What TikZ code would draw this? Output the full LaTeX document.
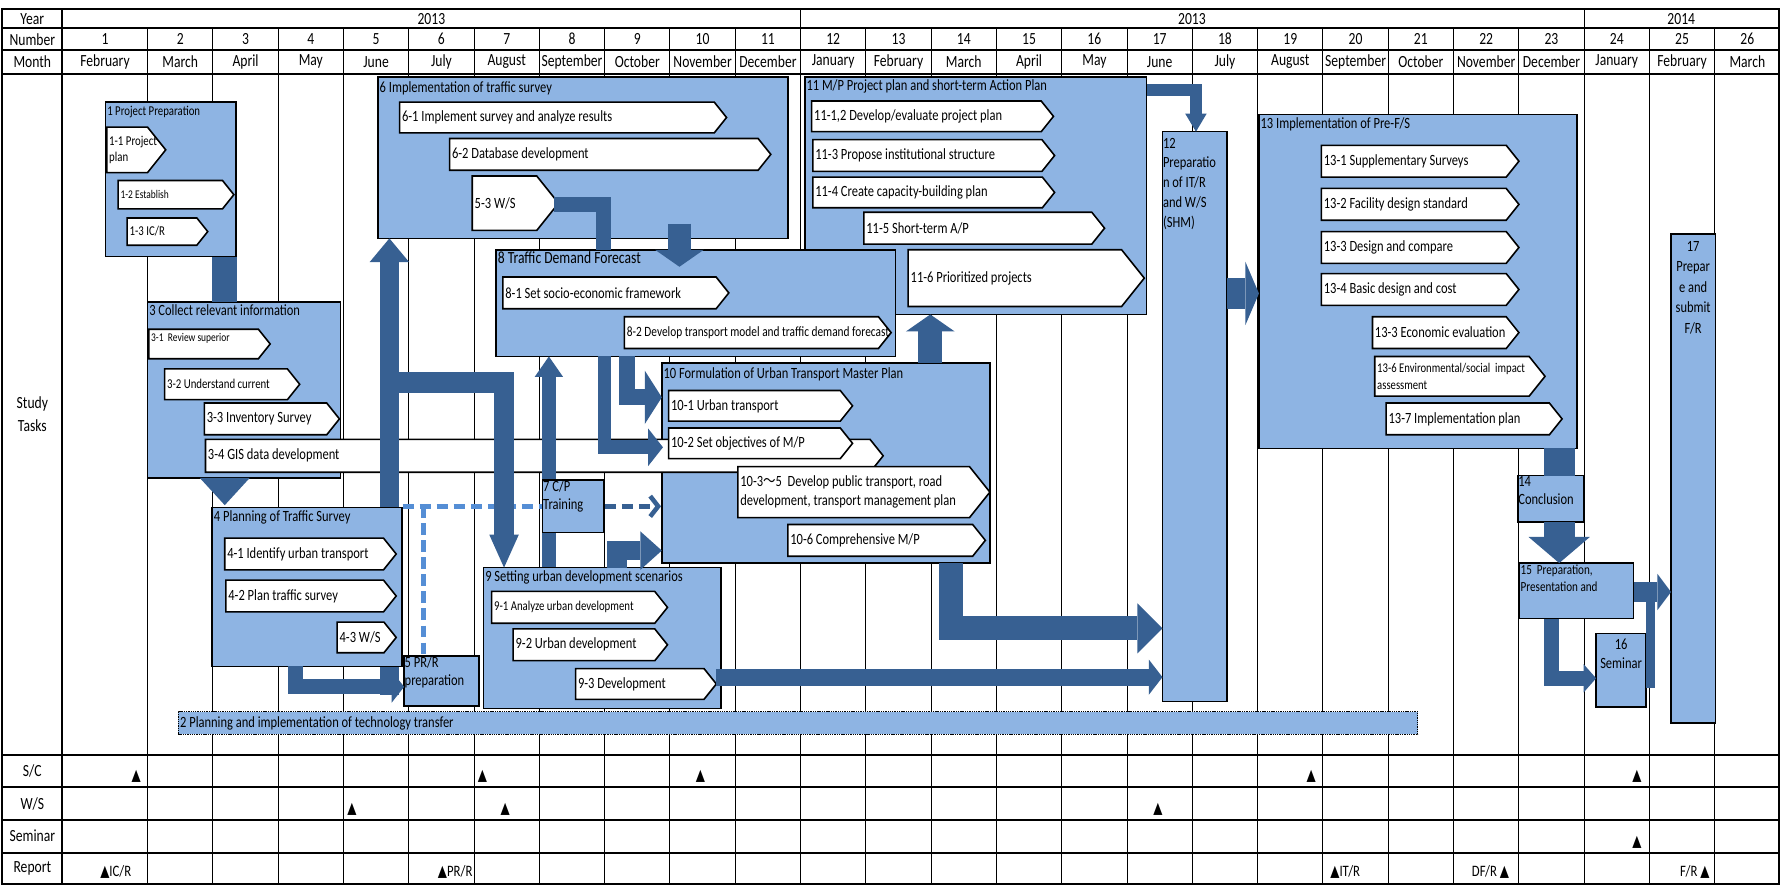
\documentclass[tikz,border=0pt]{standalone}
\usepackage{fontspec}
\setmainfont[FakeStretch=0.8]{Carlito}
\newfontfamily\symfont[FakeStretch=0.75]{DejaVu Sans}
\newfontfamily\cjkfont[FakeStretch=0.8]{Noto Sans CJK SC}
\usetikzlibrary{positioning}
\usetikzlibrary{arrows.meta}
\usetikzlibrary{fit}

\definecolor{boxblue}{HTML}{8EB4E3}
\definecolor{arrowblue}{HTML}{376092}
\definecolor{dashblue}{HTML}{558ED5}

\newcommand{\hdr}{\fontsize{15}{20}\selectfont}
\newcommand{\tsk}{\fontsize{13.75}{17}\selectfont}
\newcommand{\tsksmall}{\fontsize{11.9}{15}\selectfont}
\newcommand{\tsktiny}{\fontsize{10.4}{12.5}\selectfont}
\newcommand{\tri}{{\symfont\fontsize{14}{14}\selectfont ▲}}

% task box from corner to corner
\newcommand{\tbox}[5]{\node[taskbox, fit={(#2,#3) (#4,#5)}] (#1) {};}
% chevron: [text opts]{name}{x1}{y1}{x2}{y2}{text}
\newcommand{\chev}[7][]{%
  \draw[chevline] (#3,#4) -- ({#5-0.4*(#6-#4)},#4) -- (#5,{(#4+#6)/2})
    -- ({#5-0.4*(#6-#4)},#6) -- (#3,#6) -- cycle;
  \node[chevtext,#1] (#2) at (#3,{(#4+#6)/2}) {#7};}

\begin{document}
\begin{tikzpicture}[
    x=1pt, y=-1pt,
    gridline/.style={draw=black, line width=0.9pt},
    rowline/.style={draw=black, line width=1.8pt},
    headtext/.style={inner sep=1pt, font=\hdr},
    taskbox/.style={draw=black, line width=1.4pt, fill=boxblue, inner sep=0pt},
    boxtitle/.style={anchor=north west, inner sep=2pt, align=left, font=\tsk},
    chevline/.style={draw=black, line width=1.4pt, fill=white, line join=miter},
    chevtext/.style={anchor=west, inner sep=2pt, align=left, font=\tsk},
    blockarrow/.style={draw=arrowblue, line join=miter, line cap=butt},
    marker/.style={inner sep=0pt},
    reptext/.style={inner sep=0pt, font=\fontsize{14}{15}\selectfont}
  ]

  \fill[white] (0,0) rectangle (1568,780);
  \useasboundingbox (0,0) rectangle (1568,780);

  % grid
  \draw[gridline] (130,25) -- (130,779);
  \foreach \k in {1,...,24} {
    \pgfmathsetmacro{\xx}{130+57.52*\k}
    \draw[gridline] (\xx,25) -- (\xx,779);
  }
  \draw[rowline] (55,8) -- (55,779);
  \draw[gridline] (705.2,8) -- (705.2,25);
  \draw[gridline] (1395.4,8) -- (1395.4,25);
  \foreach \yy in {25,44,65,665,693,722,751}
    \draw[rowline] (2,\yy) -- (1567,\yy);
  \draw[rowline] (2,8) rectangle (1567,779);

  % header
  \node[headtext] (lYear) at (28.5,16.5) {Year};
  \node[headtext] (lNumber) at (28.5,34.5) {Number};
  \node[headtext] (lMonth) at (28.5,54.5) {Month};
  \node[headtext, align=center] (lStudy) at (28.5,365) {Study\\Tasks};
  \node[headtext] (lSC) at (28.5,679) {S/C};
  \node[headtext] (lWS) at (28.5,708) {W/S};
  \node[headtext] (lSem) at (28.5,736.5) {Seminar};
  \node[headtext] (lRep) at (28.5,765) {Report};
  \node[headtext] (yr1) at (380,16.5) {2013};
  \node[headtext] (yr2) at (1050,16.5) {2013};
  \node[headtext] (yr3) at (1481,16.5) {2014};
  \foreach \mon [count=\k] in {February,March,April,May,June,July,August,September,October,November,December,January,February,March,April,May,June,July,August,September,October,November,December,January,February,March} {
    \pgfmathsetmacro{\xc}{ifthenelse(\k==1,92.5,130+57.52*(\k-1.5))}
    \node[headtext] (num\k) at (\xc,34.5) {\k};
    \node[headtext] (month\k) at (\xc,54.5) {\mon};
  }

  % 2 technology transfer
  \node[taskbox, line width=1pt, dash pattern=on 1.2pt off 0.8pt, fit={(157,627) (1249,647)}] (Task2) {};
  \node[chevtext] (Title2) at (Task2.west) {2 Planning and implementation of technology transfer};

  % 1 project preparation
  \tbox{Task1}{93}{90}{208}{226}
  \node[boxtitle, font=\tsksmall] (Title1) at ([yshift=-2pt]Task1.north west) {1 Project Preparation};
  \chev[font=\fontsize{11.9}{14.5}\selectfont]{Sub11}{94}{112}{146}{152}{1-1 Project\\plan}
  \chev[font=\tsktiny]{Sub12}{104}{159}{206}{184}{1-2 Establish}
  \chev[font=\tsksmall]{Sub13}{112}{192}{183}{216}{1-3 IC/R}

  % 3 collect information
  \tbox{Task3}{130}{266}{300}{421}
  \node[boxtitle] (Title3) at ([yshift=-1pt]Task3.north west) {3 Collect relevant information};
  \chev[font=\tsktiny, yshift=5pt]{Sub31}{131}{290}{238}{316}{3-1\ \ Review superior}
  \chev[font=\tsksmall]{Sub32}{145}{325}{264}{352}{3-2 Understand current}
  \chev{Sub33}{180}{355}{299}{383}{3-3 Inventory Survey}

  % 6 traffic survey
  \tbox{Task6}{333}{68}{694}{210}
  \node[boxtitle] (Title6) at ([yshift=-2pt]Task6.north west) {6 Implementation of traffic survey};
  \chev{Sub61}{352}{90}{640}{117}{6-1 Implement survey and analyze results}
  \chev{Sub62}{396}{122}{679}{150}{6-2 Database development}
  \chev{Sub53}{416}{155}{492}{203}{5-3 W/S}

  % 11 M/P project plan
  \tbox{Task11}{709}{68}{1010}{277}
  \node[boxtitle] (Title11) at ([yshift=-1pt]Task11.north west) {11 M/P Project plan and short-term Action Plan};
  \chev{Sub112}{715}{89}{928}{116}{11-1,2 Develop/evaluate project plan}
  \chev{Sub113}{716}{123}{929}{151}{11-3 Propose institutional structure}
  \chev{Sub114}{716}{156}{929}{183}{11-4 Create capacity-building plan}
  \chev{Sub115}{761}{187}{973}{215}{11-5 Short-term A/P}
  \chev{Sub116}{800}{220}{1008}{270}{11-6 Prioritized projects}

  % 8 traffic demand forecast
  \tbox{Task8}{437}{220}{789}{314}
  \node[boxtitle, font=\fontsize{15}{16}\selectfont] (Title8) at (Task8.north west) {8 Traffic Demand Forecast};
  \chev{Sub81}{443}{244}{642}{272}{8-1 Set socio-economic framework}
  \chev[font=\fontsize{12.5}{13}\selectfont]{Sub82}{550}{279}{785}{307}{8-2 Develop transport model and traffic demand forecast}

  % 10 master plan, with the GIS bar running over it
  \tbox{Task10}{583}{320}{872}{496}
  \chev{Sub34}{181}{387}{778}{416}{3-4 GIS data development}
  \node[boxtitle] (Title10) at ([yshift=-2pt]Task10.north west) {10 Formulation of Urban Transport Master Plan};
  \chev{Sub101}{589}{344}{751}{371}{10-1 Urban transport}
  \chev{Sub102}{589}{377}{751}{404}{10-2 Set objectives of M/P}
  \chev{Sub1035}{650}{411}{872}{456}{10-3{\cjkfont ～}5\ \ Develop public transport, road\\development, transport management plan}
  \chev{Sub106}{694}{462}{868}{490}{10-6 Comprehensive M/P}

  % 12 and 13
  \tbox{Task12}{1024}{116}{1081}{618}
  \node[boxtitle, inner sep=1pt, font=\fontsize{13.75}{17.5}\selectfont] (Title12) at ([yshift=-5pt]Task12.north west) {12\\Preparatio\\n of IT/R\\and W/S\\(SHM)};
  \tbox{Task13}{1109}{101}{1389}{395}
  \node[boxtitle] (Title13) at ([yshift=-1pt]Task13.north west) {13 Implementation of Pre-F/S};
  \chev{Sub131}{1164}{128}{1338}{156}{13-1 Supplementary Surveys}
  \chev{Sub132}{1164}{166}{1338}{194}{13-2 Facility design standard}
  \chev{Sub133}{1164}{204}{1338}{232}{13-3 Design and compare}
  \chev{Sub134}{1164}{241}{1338}{269}{13-4 Basic design and cost}
  \chev{Sub135}{1209}{279}{1338}{307}{13-3 Economic evaluation}
  \chev[font=\fontsize{11.75}{15}\selectfont]{Sub136}{1211}{314}{1361}{349}{13-6 Environmental/social\ \ impact\\assessment}
  \chev{Sub137}{1221}{355}{1376}{383}{13-7 Implementation plan}

  % 14 to 17
  \tbox{Task14}{1337}{419}{1395}{460}
  \node[boxtitle, inner sep=1pt, font=\fontsize{13.75}{16}\selectfont] (Title14) at (Task14.north west) {14\\Conclusion};
  \tbox{Task15}{1338}{496}{1439}{545}
  \node[boxtitle, font=\fontsize{12.25}{15}\selectfont] (Title15) at (Task15.north west) {15\ \ Preparation,\\Presentation and};
  \tbox{Task16}{1406}{558}{1450}{623}
  \node[boxtitle, anchor=north, align=center, font=\fontsize{13.75}{17.5}\selectfont] (Title16) at ([yshift=-3pt]Task16.north) {16\\Seminar};
  \tbox{Task17}{1472}{206}{1511}{637}
  \node[boxtitle, anchor=north, align=center, font=\fontsize{13.75}{18}\selectfont] (Title17) at ([yshift=-5pt]Task17.north) {17\\Prepar\\e and\\submit\\F/R};

  % arrows running behind boxes 4 and 7
  \draw[blockarrow, line width=17pt, -{Triangle[length=21pt,width=35pt,line width=0pt]}] (343,612) -- (343,210);
  \draw[blockarrow, line width=13pt, -{Triangle[length=18pt,width=25pt,line width=0pt]}] (483.5,500) -- (483.5,314);

  % 4 planning of traffic survey
  \tbox{Task4}{187}{447}{354}{587}
  \node[boxtitle] (Title4) at ([yshift=-1pt]Task4.north west) {4 Planning of Traffic Survey};
  \chev{Sub41}{198}{474}{349}{502}{4-1 Identify urban transport}
  \chev{Sub42}{199}{511}{349}{539}{4-2 Plan traffic survey}
  \chev{Sub43}{297}{548}{349}{575}{4-3 W/S}

  % 5, 7, 9
  \tbox{Task5}{356}{578}{422}{622}
  \node[boxtitle, inner sep=1pt, font=\fontsize{13.75}{16}\selectfont] (Title5) at (Task5.north west) {5 PR/R\\preparation};
  \tbox{Task7}{478}{423}{532}{469}
  \node[boxtitle, inner sep=1pt, font=\fontsize{13.75}{16}\selectfont] (Title7) at (Task7.north west) {7 C/P\\Training};
  \tbox{Task9}{426}{500}{635}{624}
  \node[boxtitle] (Title9) at ([yshift=-1pt]Task9.north west) {9 Setting urban development scenarios};
  \chev[font=\tsksmall]{Sub91}{433}{521}{588}{549}{9-1 Analyze urban development}
  \chev{Sub92}{452}{554}{588}{582}{9-2 Urban development}
  \chev{Sub93}{507}{589}{631}{616}{9-3 Development}

  % dashed links for C/P training
  \draw[dashblue, line width=4pt, dash pattern=on 10pt off 5pt] (Task4.east |- Task7.west) -- (Task7.west);
  \draw[dashblue, line width=4pt, dash pattern=on 10pt off 5pt] (373,446) -- (373,578);
  \draw[arrowblue, line width=4pt, dash pattern=on 10pt off 5pt, -{Straight Barb[length=7pt,width=18pt]}] (Task7.east) -- (Task7.east -| Task10.west);

  % block arrows
  \draw[blockarrow, line width=22pt] (198,226) -- (198,266);
  \fill[arrowblue] (176,421) -- (220,421) -- (198,445) -- cycle;
  \draw[blockarrow, line width=13pt] (488,180) -| (531.5,220);
  \draw[blockarrow, line width=21pt, -{Triangle[length=15pt,width=43pt,line width=0pt]}] (598.5,197) -- (598.5,235);
  \draw[blockarrow, line width=18pt, -{Triangle[length=29pt,width=26pt,line width=0pt]}] (343,337) -| (444,500);
  \draw[blockarrow, line width=13pt, -{Triangle[length=11pt,width=28pt,line width=0pt]}] (260,587) |- (356,605);
  \draw[blockarrow, line width=14pt, -{Triangle[length=15pt,width=47pt,line width=0pt]}] (552.5,314) |- (583,350);
  \draw[blockarrow, line width=12pt, -{Triangle[length=13pt,width=33pt,line width=0pt]}] (532.5,314) |- (584,394);
  \draw[blockarrow, line width=17pt, -{Triangle[length=19pt,width=34pt,line width=0pt]}] (543.5,500) |- (583,485);
  \draw[blockarrow, line width=21pt, -{Triangle[length=15pt,width=43pt,line width=0pt]}] (819.5,320) -- (819.5,277);
  \draw[blockarrow, line width=11pt, -{Triangle[length=16pt,width=19pt,line width=0pt]}] (1010,79.5) -| (1053.5,116);
  \draw[blockarrow, line width=27pt, -{Triangle[length=12pt,width=56pt,line width=0pt]}] (1081,258.5) -- (1109,258.5);
  \draw[blockarrow, line width=21pt, -{Triangle[length=22pt,width=44pt,line width=0pt]}] (838,496) |- (1024,553.5);
  \draw[blockarrow, line width=15pt, -{Triangle[length=12pt,width=31pt,line width=0pt]}] (631,596.5) -- (1024,596.5);
  \draw[blockarrow, line width=27pt] (1373.5,395) -- (1373.5,419);
  \draw[blockarrow, line width=27pt, -{Triangle[length=23pt,width=54pt,line width=0pt]}] (1373.5,460) -- (1373.5,496);
  \draw[blockarrow, line width=13pt, -{Triangle[length=11pt,width=25pt,line width=0pt]}] (1367,545) |- (1406,597.5);
  \draw[blockarrow, line width=17pt, -{Triangle[length=12pt,width=32pt,line width=0pt]}] (1439,521.5) -- (1472,521.5);
  \draw[blockarrow, line width=8pt] (1454,606) -- (1454,521.5);

  % milestones
  \node[marker] (sc1) at (120,684) {\tri};
  \node[marker] (sc2) at (425,684) {\tri};
  \node[marker] (sc3) at (617,684) {\tri};
  \node[marker] (sc4) at (1155,684) {\tri};
  \node[marker] (sc5) at (1442,684) {\tri};
  \node[marker] (ws1) at (310,713) {\tri};
  \node[marker] (ws2) at (445,713) {\tri};
  \node[marker] (ws3) at (1020,713) {\tri};
  \node[marker] (sem1) at (1442,742) {\tri};
  \node[reptext] (rep1) at (102,768) {\tri IC/R};
  \node[reptext] (rep2) at (401,768) {\tri PR/R};
  \node[reptext] (rep3) at (1185,768) {\tri IT/R};
  \node[reptext] (rep4) at (1313,768) {DF/R \tri};
  \node[reptext] (rep5) at (1493,768) {F/R \tri};

\end{tikzpicture}
\end{document}
